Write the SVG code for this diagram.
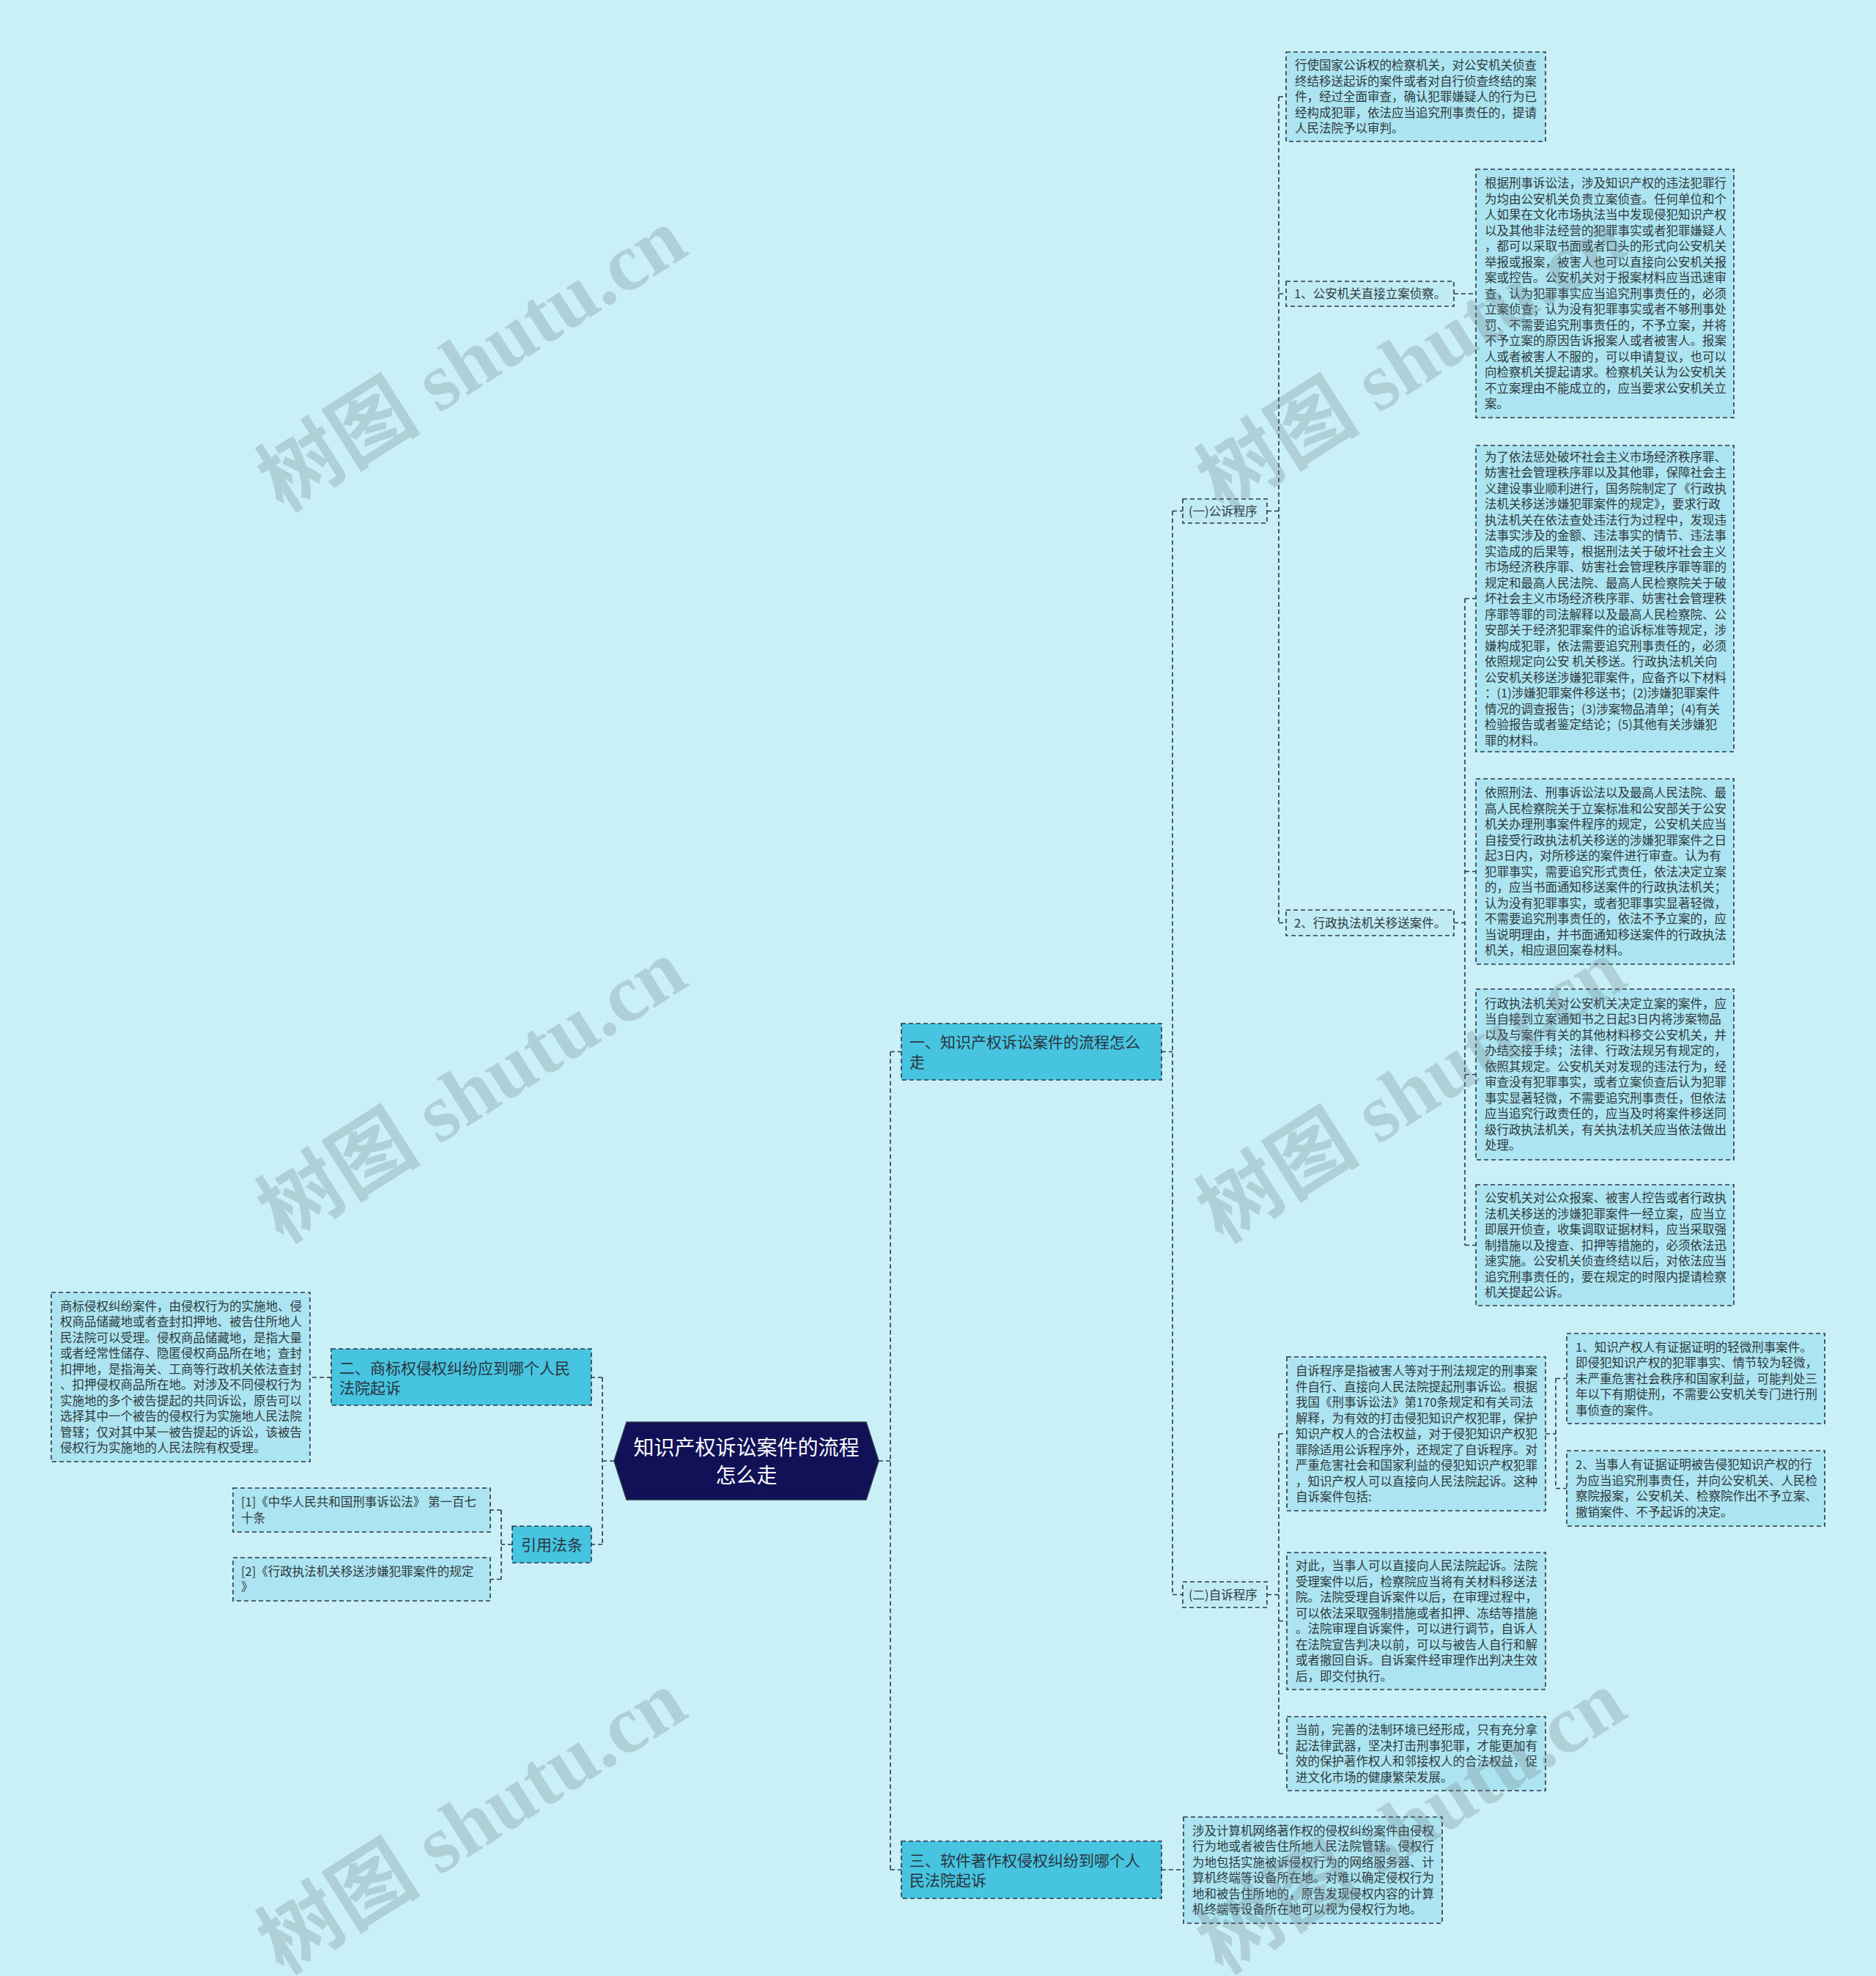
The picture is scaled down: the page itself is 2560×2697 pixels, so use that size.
<svg xmlns="http://www.w3.org/2000/svg" width="2560" height="2697" viewBox="0 0 2560 2697">
<defs>
<style>
.bg{fill:#c9eff7}
.box{fill:#ade4f1;stroke:#2a3848;stroke-width:1.6;stroke-dasharray:6 4}
.lab{fill:#c0ebf5;stroke:#2a3848;stroke-width:1.6;stroke-dasharray:6 4}
.br{fill:#46c4e0;stroke:#2a3848;stroke-width:1.6;stroke-dasharray:6 4}
.t{font-family:"Noto Sans CJK SC","Noto Sans",sans-serif;font-size:16.5px;fill:#2e3a40}
.tb{font-family:"Noto Sans CJK SC","Noto Sans",sans-serif;font-size:21px;fill:#2a3540}
.tc{font-family:"Noto Sans CJK SC","Noto Sans",sans-serif;font-size:28px;fill:#ffffff;text-anchor:middle}
.wm{font-family:"Liberation Serif","Noto Sans CJK SC",serif;font-size:112px;font-weight:bold;fill:#6b7a80;opacity:0.26}
.c{fill:none;stroke:#2a3848;stroke-width:1.6;stroke-dasharray:6 4}
</style>
</defs>
<rect class="bg" x="0" y="0" width="2560" height="2697"/>

<g id="connectors">
<path class="c" d="M1199 1994H1215M1215 1435.5V2552M1215 1435.5H1230M1215 2552H1230"/>
<path class="c" d="M838 1994H822M822 1880V2108M822 1880H807M822 2108H807"/>
<path class="c" d="M452 1880H423"/>
<path class="c" d="M699 2108H684M684 2061V2155.5M684 2061H669M684 2155.5H669"/>
<path class="c" d="M1585 1435.5H1600M1600 697.5V2176.5M1600 697.5H1614M1600 2176.5H1614"/>
<path class="c" d="M1729 697.5H1745M1745 132V1259.5M1745 132H1755M1745 401H1755M1745 1259.5H1755"/>
<path class="c" d="M1984 401H2014"/>
<path class="c" d="M1984 1259.5H1999M1999 817V1699.5M1999 817H2014M1999 1189.5H2014M1999 1466.5H2014M1999 1699.5H2014"/>
<path class="c" d="M1729 2176.5H1745M1745 1957V2393.5M1745 1957H1756M1745 2212.5H1756M1745 2393.5H1756"/>
<path class="c" d="M2109 1957H2123M2123 1881.5V2031.5M2123 1881.5H2138M2123 2031.5H2138"/>
<path class="c" d="M1585 2552H1615"/>
</g>

<g id="center">
<polygon points="838,1994 855,1941 1182,1941 1199,1994 1182,2047 855,2047" fill="#111158" stroke="#2a3848" stroke-width="1.5"/>
<text class="tc" x="1018.5" y="1985.5">知识产权诉讼案件的流程</text>
<text class="tc" x="1018.5" y="2023.5">怎么走</text>
</g>

<g id="branch1">
<rect class="br" x="1230" y="1397" width="355" height="77"/>
<text class="tb" x="1241" y="1430">一、知识产权诉讼案件的流程怎么<tspan x="1241" dy="27">走</tspan></text>
</g>

<g id="branch3">
<rect class="br" x="1230" y="2513" width="355" height="78"/>
<text class="tb" x="1241" y="2546.5">三、软件著作权侵权纠纷到哪个人<tspan x="1241" dy="27">民法院起诉</tspan></text>
</g>

<g id="branch2">
<rect class="br" x="452" y="1841" width="355" height="77"/>
<text class="tb" x="463" y="1874.5">二、商标权侵权纠纷应到哪个人民<tspan x="463" dy="27">法院起诉</tspan></text>
</g>

<g id="branch-refs">
<rect class="br" x="699" y="2083" width="108" height="50"/>
<text class="tb" x="711" y="2116">引用法条</text>
</g>

<g id="ref1">
<rect class="box" x="318" y="2031" width="351" height="60"/>
<text class="t" x="329" y="2056.25">[1]《中华人民共和国刑事诉讼法》 第一百七<tspan x="329" dy="21.5">十条</tspan></text>
</g>

<g id="ref2">
<rect class="box" x="318" y="2126" width="351" height="59"/>
<text class="t" x="329" y="2150.75">[2]《行政执法机关移送涉嫌犯罪案件的规定<tspan x="329" dy="21.5">》</tspan></text>
</g>

<g id="trademark-text">
<rect class="box" x="70" y="1764" width="353" height="231"/>
<text class="t" x="82" y="1788.75">商标侵权纠纷案件，由侵权行为的实施地、侵<tspan x="82" dy="21.5">权商品储藏地或者查封扣押地、被告住所地人</tspan><tspan x="82" dy="21.5">民法院可以受理。侵权商品储藏地，是指大量</tspan><tspan x="82" dy="21.5">或者经常性储存、隐匿侵权商品所在地；查封</tspan><tspan x="82" dy="21.5">扣押地，是指海关、工商等行政机关依法查封</tspan><tspan x="82" dy="21.5">、扣押侵权商品所在地。对涉及不同侵权行为</tspan><tspan x="82" dy="21.5">实施地的多个被告提起的共同诉讼，原告可以</tspan><tspan x="82" dy="21.5">选择其中一个被告的侵权行为实施地人民法院</tspan><tspan x="82" dy="21.5">管辖；仅对其中某一被告提起的诉讼，该被告</tspan><tspan x="82" dy="21.5">侵权行为实施地的人民法院有权受理。</tspan></text>
</g>

<g id="public-prosecution">
<rect class="lab" x="1614" y="681" width="115" height="33"/>
<text class="t" x="1622" y="703.5">(一)公诉程序</text>
</g>

<g id="private-prosecution">
<rect class="lab" x="1614" y="2159" width="115" height="35"/>
<text class="t" x="1622" y="2182.5">(二)自诉程序</text>
</g>

<g id="pp-text">
<rect class="box" x="1755" y="71" width="354" height="122"/>
<text class="t" x="1767" y="95">行使国家公诉权的检察机关，对公安机关侦查<tspan x="1767" dy="21.5">终结移送起诉的案件或者对自行侦查终结的案</tspan><tspan x="1767" dy="21.5">件，经过全面审查，确认犯罪嫌疑人的行为已</tspan><tspan x="1767" dy="21.5">经构成犯罪，依法应当追究刑事责任的，提请</tspan><tspan x="1767" dy="21.5">人民法院予以审判。</tspan></text>
</g>

<g id="pp-1">
<rect class="lab" x="1755" y="384" width="229" height="34"/>
<text class="t" x="1766" y="407">1、公安机关直接立案侦察。</text>
</g>

<g id="pp-1-text">
<rect class="box" x="2014" y="231" width="352" height="339"/>
<text class="t" x="2026" y="256">根据刑事诉讼法，涉及知识产权的违法犯罪行<tspan x="2026" dy="21.5">为均由公安机关负责立案侦查。任何单位和个</tspan><tspan x="2026" dy="21.5">人如果在文化市场执法当中发现侵犯知识产权</tspan><tspan x="2026" dy="21.5">以及其他非法经营的犯罪事实或者犯罪嫌疑人</tspan><tspan x="2026" dy="21.5">，都可以采取书面或者口头的形式向公安机关</tspan><tspan x="2026" dy="21.5">举报或报案，被害人也可以直接向公安机关报</tspan><tspan x="2026" dy="21.5">案或控告。公安机关对于报案材料应当迅速审</tspan><tspan x="2026" dy="21.5">查，认为犯罪事实应当追究刑事责任的，必须</tspan><tspan x="2026" dy="21.5">立案侦查；认为没有犯罪事实或者不够刑事处</tspan><tspan x="2026" dy="21.5">罚、不需要追究刑事责任的，不予立案，并将</tspan><tspan x="2026" dy="21.5">不予立案的原因告诉报案人或者被害人。报案</tspan><tspan x="2026" dy="21.5">人或者被害人不服的，可以申请复议，也可以</tspan><tspan x="2026" dy="21.5">向检察机关提起请求。检察机关认为公安机关</tspan><tspan x="2026" dy="21.5">不立案理由不能成立的，应当要求公安机关立</tspan><tspan x="2026" dy="21.5">案。</tspan></text>
</g>

<g id="pp-2">
<rect class="lab" x="1755" y="1242" width="229" height="35"/>
<text class="t" x="1766" y="1265.5">2、行政执法机关移送案件。</text>
</g>

<g id="pp-2-text-a">
<rect class="box" x="2014" y="608" width="352" height="418"/>
<text class="t" x="2026" y="629.5">为了依法惩处破坏社会主义市场经济秩序罪、<tspan x="2026" dy="21.5">妨害社会管理秩序罪以及其他罪，保障社会主</tspan><tspan x="2026" dy="21.5">义建设事业顺利进行，国务院制定了《行政执</tspan><tspan x="2026" dy="21.5">法机关移送涉嫌犯罪案件的规定》，要求行政</tspan><tspan x="2026" dy="21.5">执法机关在依法查处违法行为过程中，发现违</tspan><tspan x="2026" dy="21.5">法事实涉及的金额、违法事实的情节、违法事</tspan><tspan x="2026" dy="21.5">实造成的后果等，根据刑法关于破坏社会主义</tspan><tspan x="2026" dy="21.5">市场经济秩序罪、妨害社会管理秩序罪等罪的</tspan><tspan x="2026" dy="21.5">规定和最高人民法院、最高人民检察院关于破</tspan><tspan x="2026" dy="21.5">坏社会主义市场经济秩序罪、妨害社会管理秩</tspan><tspan x="2026" dy="21.5">序罪等罪的司法解释以及最高人民检察院、公</tspan><tspan x="2026" dy="21.5">安部关于经济犯罪案件的追诉标准等规定，涉</tspan><tspan x="2026" dy="21.5">嫌构成犯罪，依法需要追究刑事责任的，必须</tspan><tspan x="2026" dy="21.5">依照规定向公安 机关移送。行政执法机关向</tspan><tspan x="2026" dy="21.5">公安机关移送涉嫌犯罪案件，应备齐以下材料</tspan><tspan x="2026" dy="21.5">：(1)涉嫌犯罪案件移送书；(2)涉嫌犯罪案件</tspan><tspan x="2026" dy="21.5">情况的调查报告；(3)涉案物品清单；(4)有关</tspan><tspan x="2026" dy="21.5">检验报告或者鉴定结论；(5)其他有关涉嫌犯</tspan><tspan x="2026" dy="21.5">罪的材料。</tspan></text>
</g>

<g id="pp-2-text-b">
<rect class="box" x="2014" y="1063" width="352" height="253"/>
<text class="t" x="2026" y="1088">依照刑法、刑事诉讼法以及最高人民法院、最<tspan x="2026" dy="21.5">高人民检察院关于立案标准和公安部关于公安</tspan><tspan x="2026" dy="21.5">机关办理刑事案件程序的规定，公安机关应当</tspan><tspan x="2026" dy="21.5">自接受行政执法机关移送的涉嫌犯罪案件之日</tspan><tspan x="2026" dy="21.5">起3日内，对所移送的案件进行审查。认为有</tspan><tspan x="2026" dy="21.5">犯罪事实，需要追究形式责任，依法决定立案</tspan><tspan x="2026" dy="21.5">的，应当书面通知移送案件的行政执法机关；</tspan><tspan x="2026" dy="21.5">认为没有犯罪事实，或者犯罪事实显著轻微，</tspan><tspan x="2026" dy="21.5">不需要追究刑事责任的，依法不予立案的，应</tspan><tspan x="2026" dy="21.5">当说明理由，并书面通知移送案件的行政执法</tspan><tspan x="2026" dy="21.5">机关，相应退回案卷材料。</tspan></text>
</g>

<g id="pp-2-text-c">
<rect class="box" x="2014" y="1350" width="352" height="233"/>
<text class="t" x="2026" y="1375.75">行政执法机关对公安机关决定立案的案件，应<tspan x="2026" dy="21.5">当自接到立案通知书之日起3日内将涉案物品</tspan><tspan x="2026" dy="21.5">以及与案件有关的其他材料移交公安机关，并</tspan><tspan x="2026" dy="21.5">办结交接手续；法律、行政法规另有规定的，</tspan><tspan x="2026" dy="21.5">依照其规定。公安机关对发现的违法行为，经</tspan><tspan x="2026" dy="21.5">审查没有犯罪事实，或者立案侦查后认为犯罪</tspan><tspan x="2026" dy="21.5">事实显著轻微，不需要追究刑事责任，但依法</tspan><tspan x="2026" dy="21.5">应当追究行政责任的，应当及时将案件移送同</tspan><tspan x="2026" dy="21.5">级行政执法机关，有关执法机关应当依法做出</tspan><tspan x="2026" dy="21.5">处理。</tspan></text>
</g>

<g id="pp-2-text-d">
<rect class="box" x="2014" y="1617" width="352" height="165"/>
<text class="t" x="2026" y="1641">公安机关对公众报案、被害人控告或者行政执<tspan x="2026" dy="21.5">法机关移送的涉嫌犯罪案件一经立案，应当立</tspan><tspan x="2026" dy="21.5">即展开侦查，收集调取证据材料，应当采取强</tspan><tspan x="2026" dy="21.5">制措施以及搜查、扣押等措施的，必须依法迅</tspan><tspan x="2026" dy="21.5">速实施。公安机关侦查终结以后，对依法应当</tspan><tspan x="2026" dy="21.5">追究刑事责任的，要在规定的时限内提请检察</tspan><tspan x="2026" dy="21.5">机关提起公诉。</tspan></text>
</g>

<g id="sp-text-a">
<rect class="box" x="1756" y="1852" width="353" height="210"/>
<text class="t" x="1768" y="1877">自诉程序是指被害人等对于刑法规定的刑事案<tspan x="1768" dy="21.5">件自行、直接向人民法院提起刑事诉讼。根据</tspan><tspan x="1768" dy="21.5">我国《刑事诉讼法》第170条规定和有关司法</tspan><tspan x="1768" dy="21.5">解释，为有效的打击侵犯知识产权犯罪，保护</tspan><tspan x="1768" dy="21.5">知识产权人的合法权益，对于侵犯知识产权犯</tspan><tspan x="1768" dy="21.5">罪除适用公诉程序外，还规定了自诉程序。对</tspan><tspan x="1768" dy="21.5">严重危害社会和国家利益的侵犯知识产权犯罪</tspan><tspan x="1768" dy="21.5">，知识产权人可以直接向人民法院起诉。这种</tspan><tspan x="1768" dy="21.5">自诉案件包括:</tspan></text>
</g>

<g id="sp-case-1">
<rect class="box" x="2138" y="1820" width="352" height="123"/>
<text class="t" x="2150" y="1844.5">1、知识产权人有证据证明的轻微刑事案件。<tspan x="2150" dy="21.5">即侵犯知识产权的犯罪事实、情节较为轻微，</tspan><tspan x="2150" dy="21.5">未严重危害社会秩序和国家利益，可能判处三</tspan><tspan x="2150" dy="21.5">年以下有期徒刑，不需要公安机关专门进行刑</tspan><tspan x="2150" dy="21.5">事侦查的案件。</tspan></text>
</g>

<g id="sp-case-2">
<rect class="box" x="2138" y="1980" width="352" height="103"/>
<text class="t" x="2150" y="2005.25">2、当事人有证据证明被告侵犯知识产权的行<tspan x="2150" dy="21.5">为应当追究刑事责任，并向公安机关、人民检</tspan><tspan x="2150" dy="21.5">察院报案，公安机关、检察院作出不予立案、</tspan><tspan x="2150" dy="21.5">撤销案件、不予起诉的决定。</tspan></text>
</g>

<g id="sp-text-b">
<rect class="box" x="1756" y="2119" width="353" height="187"/>
<text class="t" x="1768" y="2143.25">对此，当事人可以直接向人民法院起诉。法院<tspan x="1768" dy="21.5">受理案件以后，检察院应当将有关材料移送法</tspan><tspan x="1768" dy="21.5">院。法院受理自诉案件以后，在审理过程中，</tspan><tspan x="1768" dy="21.5">可以依法采取强制措施或者扣押、冻结等措施</tspan><tspan x="1768" dy="21.5">。法院审理自诉案件，可以进行调节，自诉人</tspan><tspan x="1768" dy="21.5">在法院宣告判决以前，可以与被告人自行和解</tspan><tspan x="1768" dy="21.5">或者撤回自诉。自诉案件经审理作出判决生效</tspan><tspan x="1768" dy="21.5">后，即交付执行。</tspan></text>
</g>

<g id="sp-text-c">
<rect class="box" x="1756" y="2343" width="353" height="101"/>
<text class="t" x="1768" y="2367.25">当前，完善的法制环境已经形成，只有充分拿<tspan x="1768" dy="21.5">起法律武器，坚决打击刑事犯罪，才能更加有</tspan><tspan x="1768" dy="21.5">效的保护著作权人和邻接权人的合法权益，促</tspan><tspan x="1768" dy="21.5">进文化市场的健康繁荣发展。</tspan></text>
</g>

<g id="software-text">
<rect class="box" x="1615" y="2480" width="353" height="145"/>
<text class="t" x="1627" y="2504.75">涉及计算机网络著作权的侵权纠纷案件由侵权<tspan x="1627" dy="21.5">行为地或者被告住所地人民法院管辖。侵权行</tspan><tspan x="1627" dy="21.5">为地包括实施被诉侵权行为的网络服务器、计</tspan><tspan x="1627" dy="21.5">算机终端等设备所在地。对难以确定侵权行为</tspan><tspan x="1627" dy="21.5">地和被告住所地的，原告发现侵权内容的计算</tspan><tspan x="1627" dy="21.5">机终端等设备所在地可以视为侵权行为地。</tspan></text>
</g>

<g id="watermarks">
<text class="wm" transform="translate(386,700) rotate(-32.5)">树图 shutu.cn</text>
<text class="wm" transform="translate(386,1698) rotate(-32.5)">树图 shutu.cn</text>
<text class="wm" transform="translate(386,2696) rotate(-32.5)">树图 shutu.cn</text>
<text class="wm" transform="translate(1668,700) rotate(-32.5)">树图 shutu.cn</text>
<text class="wm" transform="translate(1668,1698) rotate(-32.5)">树图 shutu.cn</text>
<text class="wm" transform="translate(1668,2696) rotate(-32.5)">树图 shutu.cn</text>
</g>
</svg>
